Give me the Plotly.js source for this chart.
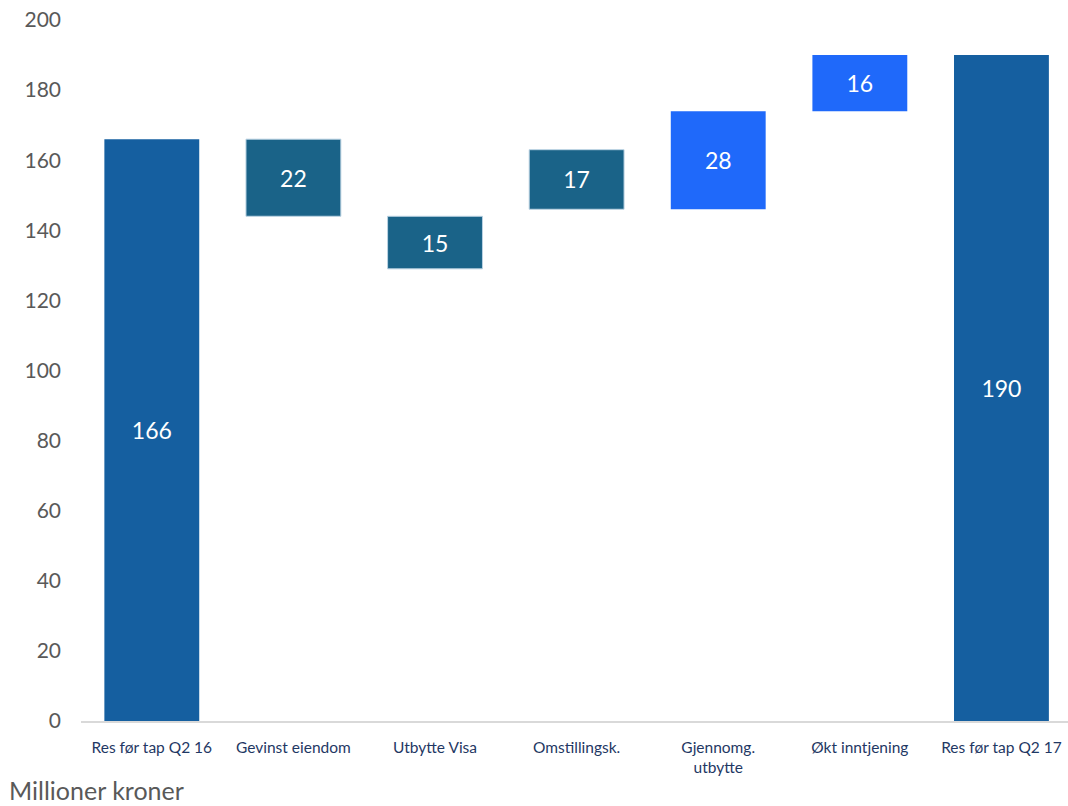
<!DOCTYPE html>
<html>
<head>
<meta charset="utf-8">
<script src="https://cdn.plot.ly/plotly-3.0.1.min.js"></script>
<style>html,body{margin:0;padding:0;background:#fff;}#chart{width:1068px;height:806px;}</style>
</head>
<body>
<div id="chart"></div>
<script>
const categories = ["Res før tap Q2 16", "Gevinst eiendom", "Utbytte Visa", "Omstillingsk.", "Gjennomg.<br>utbytte", "Økt inntjening", "Res før tap Q2 17"];
const amounts = [166, 22, 15, 17, 28, 16, 190];
const barStarts = [0, 144, 129, 146, 146, 174, 0];
const kinds = ["total", "decrease", "decrease", "decrease", "increase", "increase", "total"];
const yTicks = [0, 20, 40, 60, 80, 100, 120, 140, 160, 180, 200];

const colorMap = {total: "#155FA0", decrease: "#1A6388", increase: "#1F69FA"};
const lineMap = {total: "rgba(0,0,0,0)", decrease: "#BCD3E3", increase: "rgba(0,0,0,0)"};

const trace = {
  type: "bar",
  x: categories,
  y: amounts,
  base: barStarts,
  text: amounts.map(String),
  textposition: "inside",
  insidetextanchor: "middle",
  textangle: 0,
  constraintext: "none",
  textfont: {family: "Lato, 'Open Sans', sans-serif", size: 23, color: "#FFFFFF"},
  marker: {
    color: kinds.map(k => colorMap[k]),
    line: {color: kinds.map(k => lineMap[k]), width: 1}
  },
  hoverinfo: "none",
  cliponaxis: false
};

const layout = {
  width: 1068, height: 806,
  margin: {l: 81, r: 0, t: 20, b: 85},
  paper_bgcolor: "#FFFFFF", plot_bgcolor: "#FFFFFF",
  bargap: 0.33,
  showlegend: false,
  font: {family: "Lato, 'Open Sans', sans-serif"},
  xaxis: {
    type: "category",
    range: [-0.5, 6.47],
    showgrid: false,
    showline: true, linecolor: "#D9D9D9", linewidth: 2,
    ticks: "",
    tickfont: {size: 15.5, color: "#1F3864"},
    ticklabelstandoff: 11
  },
  yaxis: {
    range: [0, 200],
    tickvals: yTicks,
    ticktext: yTicks.map(String),
    showgrid: false, zeroline: false, showline: false,
    ticks: "",
    tickfont: {size: 21, color: "#595959"},
    ticklabelstandoff: 19
  },
  annotations: [{
    text: "Millioner kroner",
    xref: "paper", yref: "paper",
    x: -74/987, y: -86/701,
    xanchor: "left", yanchor: "bottom",
    showarrow: false,
    font: {size: 25, color: "#595959"}
  }]
};

Plotly.newPlot("chart", [trace], layout, {staticPlot: true, displayModeBar: false});
</script>
</body>
</html>
